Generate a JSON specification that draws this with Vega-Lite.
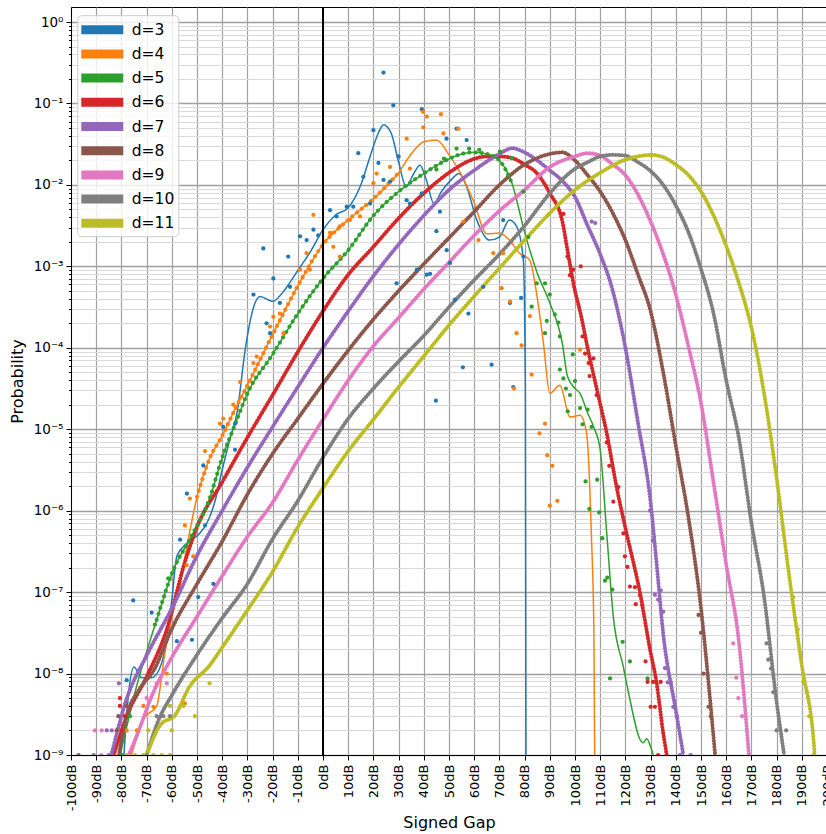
{
"$schema": "https://vega.github.io/schema/vega-lite/v6.json",
"width": 756, "height": 748,
"autosize": "none",
"padding": {"left": 71, "top": 7, "right": 0, "bottom": 79},
"background": "white",
"config": {
  "font": "DejaVu Sans",
  "view": {"stroke": "#000", "strokeWidth": 1},
  "axis": {"domainColor": "#000", "tickColor": "#000", "labelColor": "#000", "titleColor": "#000", "titleFontWeight": "normal", "labelFontSize": 13, "titleFontSize": 16, "labelOverlap": false}
},
"datasets": {
"curves": [
{"d":"d=3","gap":-79,"p":1e-9},{"d":"d=3","gap":-77,"p":6.3e-9},{"d":"d=3","gap":-75,"p":1.2e-8},{"d":"d=3","gap":-72,"p":8.9e-9},{"d":"d=3","gap":-68,"p":8.9e-9},{"d":"d=3","gap":-65,"p":1.12e-8},{"d":"d=3","gap":-62,"p":2.57e-8},{"d":"d=3","gap":-60,"p":7.9e-8},{"d":"d=3","gap":-58,"p":2.75e-7},{"d":"d=3","gap":-54,"p":3.98e-7},{"d":"d=3","gap":-49,"p":5.25e-7},{"d":"d=3","gap":-46,"p":7.1e-7},{"d":"d=3","gap":-43,"p":1.26e-6},{"d":"d=3","gap":-40,"p":3.16e-6},{"d":"d=3","gap":-37,"p":7.4e-6},{"d":"d=3","gap":-34,"p":1.66e-5},{"d":"d=3","gap":-31,"p":8.9e-5},{"d":"d=3","gap":-28,"p":2.82e-4},{"d":"d=3","gap":-25,"p":4.27e-4},{"d":"d=3","gap":-20,"p":3.72e-4},{"d":"d=3","gap":-15,"p":5.25e-4},{"d":"d=3","gap":-10,"p":8.9e-4},{"d":"d=3","gap":-5,"p":1.51e-3},{"d":"d=3","gap":0,"p":2.82e-3},{"d":"d=3","gap":5,"p":4.27e-3},{"d":"d=3","gap":10,"p":5.25e-3},{"d":"d=3","gap":15,"p":1e-2},{"d":"d=3","gap":19,"p":2.4e-2},{"d":"d=3","gap":22,"p":4.37e-2},{"d":"d=3","gap":24,"p":5.5e-2},{"d":"d=3","gap":27,"p":4.37e-2},{"d":"d=3","gap":30,"p":1.91e-2},{"d":"d=3","gap":33,"p":9.5e-3},{"d":"d=3","gap":36,"p":1.38e-2},{"d":"d=3","gap":38.5,"p":1.74e-2},{"d":"d=3","gap":41,"p":1.15e-2},{"d":"d=3","gap":44,"p":5.9e-3},{"d":"d=3","gap":47,"p":8.3e-3},{"d":"d=3","gap":51,"p":1.17e-2},{"d":"d=3","gap":54,"p":1.38e-2},{"d":"d=3","gap":57,"p":9.5e-3},{"d":"d=3","gap":61,"p":3.72e-3},{"d":"d=3","gap":66,"p":2.1e-3},{"d":"d=3","gap":70,"p":2.29e-3},{"d":"d=3","gap":74,"p":3.72e-3},{"d":"d=3","gap":77,"p":3.02e-3},{"d":"d=3","gap":79.5,"p":1.2e-3},{"d":"d=3","gap":80.3,"p":3.16e-5},{"d":"d=3","gap":80.6,"p":1e-10},
{"d":"d=4","gap":-76,"p":1e-9},{"d":"d=4","gap":-71,"p":2.82e-9},{"d":"d=4","gap":-66,"p":3.98e-9},{"d":"d=4","gap":-63,"p":1.58e-8},{"d":"d=4","gap":-60,"p":5e-8},{"d":"d=4","gap":-57,"p":1.12e-7},{"d":"d=4","gap":-54,"p":3.63e-7},{"d":"d=4","gap":-50,"p":1.48e-6},{"d":"d=4","gap":-45,"p":4.37e-6},{"d":"d=4","gap":-40,"p":8.3e-6},{"d":"d=4","gap":-35,"p":1.74e-5},{"d":"d=4","gap":-30,"p":3.47e-5},{"d":"d=4","gap":-20,"p":1.45e-4},{"d":"d=4","gap":-10,"p":5.75e-4},{"d":"d=4","gap":0,"p":1.86e-3},{"d":"d=4","gap":10,"p":3.72e-3},{"d":"d=4","gap":20,"p":6.76e-3},{"d":"d=4","gap":30,"p":1.41e-2},{"d":"d=4","gap":35,"p":2.4e-2},{"d":"d=4","gap":40,"p":3.39e-2},{"d":"d=4","gap":45,"p":3.55e-2},{"d":"d=4","gap":50,"p":2.34e-2},{"d":"d=4","gap":55,"p":1.32e-2},{"d":"d=4","gap":60,"p":6e-3},{"d":"d=4","gap":65,"p":2.51e-3},{"d":"d=4","gap":70,"p":2.57e-3},{"d":"d=4","gap":74,"p":2.1e-3},{"d":"d=4","gap":78,"p":1.45e-3},{"d":"d=4","gap":82,"p":1.2e-3},{"d":"d=4","gap":85,"p":4.17e-4},{"d":"d=4","gap":87.5,"p":1.12e-4},{"d":"d=4","gap":90,"p":2.75e-5},{"d":"d=4","gap":94,"p":3.47e-5},{"d":"d=4","gap":98,"p":1.41e-5},{"d":"d=4","gap":102,"p":1.48e-5},{"d":"d=4","gap":104.6,"p":8.9e-6},{"d":"d=4","gap":106.5,"p":5e-7},{"d":"d=4","gap":107.5,"p":3.16e-8},{"d":"d=4","gap":108,"p":1e-10},
{"d":"d=5","gap":-80.5,"p":1e-9},{"d":"d=5","gap":-74,"p":6.9e-9},{"d":"d=5","gap":-66,"p":4.57e-8},{"d":"d=5","gap":-59,"p":2e-7},{"d":"d=5","gap":-53,"p":4.37e-7},{"d":"d=5","gap":-45,"p":1.41e-6},{"d":"d=5","gap":-40,"p":4.47e-6},{"d":"d=5","gap":-35,"p":1.12e-5},{"d":"d=5","gap":-30,"p":2.75e-5},{"d":"d=5","gap":-20,"p":8.3e-5},{"d":"d=5","gap":-10,"p":2.63e-4},{"d":"d=5","gap":0,"p":7.1e-4},{"d":"d=5","gap":10,"p":1.58e-3},{"d":"d=5","gap":20,"p":4.2e-3},{"d":"d=5","gap":30,"p":8.3e-3},{"d":"d=5","gap":40,"p":1.38e-2},{"d":"d=5","gap":50,"p":2.09e-2},{"d":"d=5","gap":55,"p":2.4e-2},{"d":"d=5","gap":60,"p":2.51e-2},{"d":"d=5","gap":65,"p":2.4e-2},{"d":"d=5","gap":70,"p":2e-2},{"d":"d=5","gap":75,"p":1.05e-2},{"d":"d=5","gap":80,"p":2.63e-3},{"d":"d=5","gap":85,"p":8.3e-4},{"d":"d=5","gap":90,"p":3.55e-4},{"d":"d=5","gap":95,"p":1.12e-4},{"d":"d=5","gap":97,"p":4.47e-5},{"d":"d=5","gap":100,"p":3.16e-5},{"d":"d=5","gap":102,"p":2.75e-5},{"d":"d=5","gap":105,"p":1.58e-5},{"d":"d=5","gap":107.5,"p":1.05e-5},{"d":"d=5","gap":110,"p":5.6e-6},{"d":"d=5","gap":112.6,"p":5.25e-7},{"d":"d=5","gap":115.2,"p":5e-8},{"d":"d=5","gap":119.2,"p":1.2e-8},{"d":"d=5","gap":121.8,"p":4.8e-9},{"d":"d=5","gap":125.8,"p":1.55e-9},{"d":"d=5","gap":127,"p":1.41e-9},{"d":"d=5","gap":128.5,"p":1.58e-9},{"d":"d=5","gap":130,"p":1.26e-9},{"d":"d=5","gap":131,"p":1e-9},
{"d":"d=6","gap":-83,"p":1e-9},{"d":"d=6","gap":-78,"p":2.95e-9},{"d":"d=6","gap":-70,"p":9.1e-9},{"d":"d=6","gap":-62,"p":3.47e-8},{"d":"d=6","gap":-55,"p":2.24e-7},{"d":"d=6","gap":-50,"p":6.3e-7},{"d":"d=6","gap":-40,"p":2.24e-6},{"d":"d=6","gap":-30,"p":7.9e-6},{"d":"d=6","gap":-20,"p":2.63e-5},{"d":"d=6","gap":-10,"p":8.9e-5},{"d":"d=6","gap":0,"p":2.82e-4},{"d":"d=6","gap":10,"p":7.9e-4},{"d":"d=6","gap":20,"p":1.74e-3},{"d":"d=6","gap":30,"p":3.9e-3},{"d":"d=6","gap":40,"p":7.9e-3},{"d":"d=6","gap":50,"p":1.41e-2},{"d":"d=6","gap":60,"p":2.09e-2},{"d":"d=6","gap":65,"p":2.24e-2},{"d":"d=6","gap":70,"p":2.24e-2},{"d":"d=6","gap":75,"p":2.14e-2},{"d":"d=6","gap":80,"p":1.78e-2},{"d":"d=6","gap":85,"p":1.38e-2},{"d":"d=6","gap":90,"p":7.9e-3},{"d":"d=6","gap":95,"p":3.55e-3},{"d":"d=6","gap":97,"p":1.58e-3},{"d":"d=6","gap":100,"p":5e-4},{"d":"d=6","gap":102,"p":2.82e-4},{"d":"d=6","gap":105,"p":1e-4},{"d":"d=6","gap":108.6,"p":3.16e-5},{"d":"d=6","gap":112.6,"p":8.9e-6},{"d":"d=6","gap":116.5,"p":1.95e-6},{"d":"d=6","gap":120.5,"p":5.25e-7},{"d":"d=6","gap":125.8,"p":9.8e-8},{"d":"d=6","gap":129.8,"p":1.95e-8},{"d":"d=6","gap":132.4,"p":7.6e-9},{"d":"d=6","gap":135,"p":1.86e-9},{"d":"d=6","gap":136.4,"p":1e-9},
{"d":"d=7","gap":-84,"p":1e-9},{"d":"d=7","gap":-78,"p":4.8e-9},{"d":"d=7","gap":-70,"p":1.66e-8},{"d":"d=7","gap":-60,"p":6.3e-8},{"d":"d=7","gap":-50,"p":2.8e-7},{"d":"d=7","gap":-40,"p":1e-6},{"d":"d=7","gap":-30,"p":3.4e-6},{"d":"d=7","gap":-20,"p":1.07e-5},{"d":"d=7","gap":-10,"p":3.3e-5},{"d":"d=7","gap":0,"p":1e-4},{"d":"d=7","gap":10,"p":2.82e-4},{"d":"d=7","gap":20,"p":7.6e-4},{"d":"d=7","gap":30,"p":1.86e-3},{"d":"d=7","gap":40,"p":4.2e-3},{"d":"d=7","gap":50,"p":8.7e-3},{"d":"d=7","gap":60,"p":1.51e-2},{"d":"d=7","gap":70,"p":2.4e-2},{"d":"d=7","gap":75,"p":2.82e-2},{"d":"d=7","gap":80,"p":2.51e-2},{"d":"d=7","gap":85,"p":2e-2},{"d":"d=7","gap":90,"p":1.51e-2},{"d":"d=7","gap":95,"p":1.12e-2},{"d":"d=7","gap":100,"p":7.1e-3},{"d":"d=7","gap":105,"p":3.16e-3},{"d":"d=7","gap":110,"p":1.41e-3},{"d":"d=7","gap":115,"p":5e-4},{"d":"d=7","gap":120,"p":1e-4},{"d":"d=7","gap":125,"p":1.2e-5},{"d":"d=7","gap":130,"p":1.26e-6},{"d":"d=7","gap":132.5,"p":2.04e-7},{"d":"d=7","gap":135,"p":3.1e-8},{"d":"d=7","gap":140,"p":3.55e-9},{"d":"d=7","gap":143,"p":1e-9},
{"d":"d=8","gap":-81,"p":1e-9},{"d":"d=8","gap":-78,"p":2.95e-9},{"d":"d=8","gap":-73,"p":6.3e-9},{"d":"d=8","gap":-67,"p":1.12e-8},{"d":"d=8","gap":-60,"p":3.55e-8},{"d":"d=8","gap":-50,"p":1.26e-7},{"d":"d=8","gap":-40,"p":4.2e-7},{"d":"d=8","gap":-30,"p":1.58e-6},{"d":"d=8","gap":-20,"p":5e-6},{"d":"d=8","gap":-10,"p":1.35e-5},{"d":"d=8","gap":0,"p":3.63e-5},{"d":"d=8","gap":10,"p":9.3e-5},{"d":"d=8","gap":20,"p":2.24e-4},{"d":"d=8","gap":30,"p":5e-4},{"d":"d=8","gap":40,"p":1.07e-3},{"d":"d=8","gap":50,"p":2.24e-3},{"d":"d=8","gap":60,"p":4.7e-3},{"d":"d=8","gap":70,"p":1e-2},{"d":"d=8","gap":80,"p":1.78e-2},{"d":"d=8","gap":90,"p":2.4e-2},{"d":"d=8","gap":95,"p":2.51e-2},{"d":"d=8","gap":100,"p":2e-2},{"d":"d=8","gap":105,"p":1.32e-2},{"d":"d=8","gap":110,"p":8.3e-3},{"d":"d=8","gap":115,"p":4.5e-3},{"d":"d=8","gap":120,"p":2.1e-3},{"d":"d=8","gap":125,"p":7.9e-4},{"d":"d=8","gap":130,"p":2.82e-4},{"d":"d=8","gap":135,"p":5e-5},{"d":"d=8","gap":140,"p":6.3e-6},{"d":"d=8","gap":145,"p":8.3e-7},{"d":"d=8","gap":150,"p":6.3e-8},{"d":"d=8","gap":153.6,"p":4.8e-9},{"d":"d=8","gap":155.6,"p":1e-9},
{"d":"d=9","gap":-77,"p":1e-9},{"d":"d=9","gap":-73,"p":2.04e-9},{"d":"d=9","gap":-68,"p":5.25e-9},{"d":"d=9","gap":-60,"p":1.58e-8},{"d":"d=9","gap":-50,"p":5e-8},{"d":"d=9","gap":-40,"p":1.58e-7},{"d":"d=9","gap":-30,"p":4.8e-7},{"d":"d=9","gap":-20,"p":1.26e-6},{"d":"d=9","gap":-10,"p":4.2e-6},{"d":"d=9","gap":0,"p":1.32e-5},{"d":"d=9","gap":10,"p":3.98e-5},{"d":"d=9","gap":20,"p":1.05e-4},{"d":"d=9","gap":30,"p":2.34e-4},{"d":"d=9","gap":40,"p":5.25e-4},{"d":"d=9","gap":50,"p":1.12e-3},{"d":"d=9","gap":60,"p":2.4e-3},{"d":"d=9","gap":70,"p":4.8e-3},{"d":"d=9","gap":80,"p":8.7e-3},{"d":"d=9","gap":90,"p":1.66e-2},{"d":"d=9","gap":100,"p":2.24e-2},{"d":"d=9","gap":105,"p":2.45e-2},{"d":"d=9","gap":110,"p":2.29e-2},{"d":"d=9","gap":115,"p":1.78e-2},{"d":"d=9","gap":120,"p":1.32e-2},{"d":"d=9","gap":125,"p":7.6e-3},{"d":"d=9","gap":130,"p":3.55e-3},{"d":"d=9","gap":135,"p":1.41e-3},{"d":"d=9","gap":140,"p":4.5e-4},{"d":"d=9","gap":145,"p":1.05e-4},{"d":"d=9","gap":150,"p":2.1e-5},{"d":"d=9","gap":155,"p":2.19e-6},{"d":"d=9","gap":160,"p":2.19e-7},{"d":"d=9","gap":165,"p":2.5e-8},{"d":"d=9","gap":169,"p":1e-9},
{"d":"d=10","gap":-70,"p":1e-9},{"d":"d=10","gap":-65,"p":2.8e-9},{"d":"d=10","gap":-60,"p":5.4e-9},{"d":"d=10","gap":-50,"p":1.7e-8},{"d":"d=10","gap":-40,"p":4.8e-8},{"d":"d=10","gap":-30,"p":1.26e-7},{"d":"d=10","gap":-20,"p":4.5e-7},{"d":"d=10","gap":-10,"p":1.32e-6},{"d":"d=10","gap":0,"p":4.5e-6},{"d":"d=10","gap":10,"p":1.35e-5},{"d":"d=10","gap":20,"p":3.16e-5},{"d":"d=10","gap":30,"p":6.8e-5},{"d":"d=10","gap":40,"p":1.41e-4},{"d":"d=10","gap":50,"p":3.16e-4},{"d":"d=10","gap":60,"p":6.8e-4},{"d":"d=10","gap":70,"p":1.41e-3},{"d":"d=10","gap":80,"p":3.16e-3},{"d":"d=10","gap":90,"p":7.9e-3},{"d":"d=10","gap":100,"p":1.58e-2},{"d":"d=10","gap":105,"p":1.9e-2},{"d":"d=10","gap":110,"p":2.24e-2},{"d":"d=10","gap":115,"p":2.34e-2},{"d":"d=10","gap":120,"p":2.29e-2},{"d":"d=10","gap":125,"p":1.9e-2},{"d":"d=10","gap":130,"p":1.48e-2},{"d":"d=10","gap":135,"p":1e-2},{"d":"d=10","gap":140,"p":5.6e-3},{"d":"d=10","gap":145,"p":2.63e-3},{"d":"d=10","gap":150,"p":9.3e-4},{"d":"d=10","gap":155,"p":2.63e-4},{"d":"d=10","gap":160,"p":3.98e-5},{"d":"d=10","gap":165,"p":7.9e-6},{"d":"d=10","gap":170,"p":7.1e-7},{"d":"d=10","gap":175,"p":8.9e-8},{"d":"d=10","gap":180,"p":4.5e-9},{"d":"d=10","gap":183,"p":1e-9},
{"d":"d=11","gap":-70,"p":1e-9},{"d":"d=11","gap":-64,"p":2.45e-9},{"d":"d=11","gap":-59,"p":3e-9},{"d":"d=11","gap":-53,"p":6.9e-9},{"d":"d=11","gap":-45,"p":1.26e-8},{"d":"d=11","gap":-40,"p":2.1e-8},{"d":"d=11","gap":-30,"p":6e-8},{"d":"d=11","gap":-20,"p":1.78e-7},{"d":"d=11","gap":-10,"p":6.3e-7},{"d":"d=11","gap":0,"p":1.9e-6},{"d":"d=11","gap":10,"p":5.4e-6},{"d":"d=11","gap":20,"p":1.32e-5},{"d":"d=11","gap":30,"p":3.3e-5},{"d":"d=11","gap":40,"p":7.9e-5},{"d":"d=11","gap":50,"p":1.9e-4},{"d":"d=11","gap":60,"p":4.3e-4},{"d":"d=11","gap":70,"p":9.5e-4},{"d":"d=11","gap":80,"p":2.1e-3},{"d":"d=11","gap":90,"p":4.5e-3},{"d":"d=11","gap":100,"p":8.7e-3},{"d":"d=11","gap":110,"p":1.41e-2},{"d":"d=11","gap":120,"p":2.04e-2},{"d":"d=11","gap":125,"p":2.24e-2},{"d":"d=11","gap":130,"p":2.34e-2},{"d":"d=11","gap":135,"p":2.19e-2},{"d":"d=11","gap":140,"p":1.78e-2},{"d":"d=11","gap":145,"p":1.32e-2},{"d":"d=11","gap":150,"p":8.3e-3},{"d":"d=11","gap":155,"p":4.2e-3},{"d":"d=11","gap":160,"p":1.78e-3},{"d":"d=11","gap":165,"p":6.3e-4},{"d":"d=11","gap":170,"p":1.78e-4},{"d":"d=11","gap":175,"p":2.8e-5},{"d":"d=11","gap":180,"p":2.5e-6},{"d":"d=11","gap":185,"p":1.58e-7},{"d":"d=11","gap":190,"p":1.26e-8},{"d":"d=11","gap":195,"p":1.12e-9},{"d":"d=11","gap":196,"p":1e-10}
],
"dots": [
{"d":"d=3","gap":-80,"p":1e-9},{"d":"d=3","gap":-77.9,"p":8.3e-9},{"d":"d=3","gap":-75.3,"p":7.9e-8},{"d":"d=3","gap":-68,"p":5.6e-8},{"d":"d=3","gap":-58,"p":2.5e-8},{"d":"d=3","gap":-52,"p":2.6e-8},{"d":"d=3","gap":-49.5,"p":8.7e-8},{"d":"d=3","gap":-43.5,"p":1.26e-7},{"d":"d=3","gap":-56.7,"p":4.4e-7},{"d":"d=3","gap":-54,"p":1.62e-6},{"d":"d=3","gap":-47.5,"p":3.6e-6},{"d":"d=3","gap":-46.8,"p":6.6e-7},{"d":"d=3","gap":-39.6,"p":1.07e-5},{"d":"d=3","gap":-34.9,"p":1.17e-5},{"d":"d=3","gap":-34.9,"p":5.6e-6},{"d":"d=3","gap":-27.6,"p":4.5e-4},{"d":"d=3","gap":-23.7,"p":1.66e-3},{"d":"d=3","gap":-22.4,"p":2e-4},{"d":"d=3","gap":-21,"p":1.51e-4},{"d":"d=3","gap":-19.7,"p":7.1e-4},{"d":"d=3","gap":-17.1,"p":3.55e-4},{"d":"d=3","gap":-13.8,"p":1.32e-3},{"d":"d=3","gap":-13.1,"p":5.6e-4},{"d":"d=3","gap":-9.1,"p":2.34e-3},{"d":"d=3","gap":-6.5,"p":2.1e-3},{"d":"d=3","gap":-3.8,"p":2.82e-3},{"d":"d=3","gap":-1.9,"p":2.4e-3},{"d":"d=3","gap":2.8,"p":4.9e-3},{"d":"d=3","gap":5.4,"p":4.1e-3},{"d":"d=3","gap":9.4,"p":5.4e-3},{"d":"d=3","gap":12,"p":5.4e-3},{"d":"d=3","gap":14,"p":2.45e-2},{"d":"d=3","gap":16,"p":1.26e-2},{"d":"d=3","gap":18.7,"p":5.9e-3},{"d":"d=3","gap":20,"p":4.7e-2},{"d":"d=3","gap":22,"p":1.86e-2},{"d":"d=3","gap":24,"p":0.24},{"d":"d=3","gap":24,"p":1.15e-2},{"d":"d=3","gap":26.6,"p":1.1e-2},{"d":"d=3","gap":27.9,"p":9.5e-2},{"d":"d=3","gap":29.2,"p":6.2e-4},{"d":"d=3","gap":30,"p":2.24e-2},{"d":"d=3","gap":33.2,"p":6.5e-3},{"d":"d=3","gap":34.5,"p":5.9e-3},{"d":"d=3","gap":37.2,"p":9.1e-4},{"d":"d=3","gap":39.2,"p":8.5e-2},{"d":"d=3","gap":39.2,"p":7.9e-3},{"d":"d=3","gap":41.2,"p":7.9e-4},{"d":"d=3","gap":42.5,"p":8.1e-4},{"d":"d=3","gap":44.8,"p":2.24e-5},{"d":"d=3","gap":45,"p":2.7e-3},{"d":"d=3","gap":46.4,"p":4.7e-3},{"d":"d=3","gap":49,"p":3.7e-2},{"d":"d=3","gap":49.1,"p":1.58e-3},{"d":"d=3","gap":50.4,"p":1.1e-3},{"d":"d=3","gap":52.4,"p":3.9e-4},{"d":"d=3","gap":53,"p":4.9e-2},{"d":"d=3","gap":55.5,"p":5.75e-5},{"d":"d=3","gap":57,"p":3.55e-2},{"d":"d=3","gap":57.7,"p":2.63e-4},{"d":"d=3","gap":63.6,"p":5.6e-4},{"d":"d=3","gap":66.9,"p":6.2e-5},{"d":"d=3","gap":71.5,"p":3.7e-3},{"d":"d=3","gap":74.2,"p":3.55e-4},{"d":"d=3","gap":75.5,"p":3.3e-5},{"d":"d=3","gap":78.6,"p":4.1e-4},{"d":"d=3","gap":79.5,"p":1.32e-3},
{"d":"d=4","gap":-73.9,"p":2e-9},{"d":"d=4","gap":-67.3,"p":3.9e-9},{"d":"d=4","gap":-62,"p":1e-8},{"d":"d=4","gap":-54.8,"p":4.3e-9},{"d":"d=4","gap":-54.1,"p":2.14e-7},{"d":"d=4","gap":-51.5,"p":2.75e-7},{"d":"d=4","gap":-54.8,"p":6.6e-7},{"d":"d=4","gap":-52.8,"p":1.41e-6},{"d":"d=4","gap":-46.8,"p":5.4e-6},{"d":"d=4","gap":-40.9,"p":1.17e-5},{"d":"d=4","gap":-39.6,"p":1.35e-5},{"d":"d=4","gap":-35.6,"p":2e-5},{"d":"d=4","gap":-32.9,"p":3.8e-5},{"d":"d=4","gap":-27.6,"p":6.5e-5},{"d":"d=4","gap":-26.3,"p":7.8e-5},{"d":"d=4","gap":-21,"p":1.82e-4},{"d":"d=4","gap":-19.7,"p":2.4e-4},{"d":"d=4","gap":-17.1,"p":2.63e-4},{"d":"d=4","gap":-15.7,"p":1.51e-4},{"d":"d=4","gap":-9.1,"p":9.1e-4},{"d":"d=4","gap":-6.5,"p":1.45e-3},{"d":"d=4","gap":-5.2,"p":9.1e-4},{"d":"d=4","gap":-3.8,"p":4.3e-3},{"d":"d=4","gap":2.8,"p":2.57e-3},{"d":"d=4","gap":4.1,"p":1.74e-3},{"d":"d=4","gap":6.7,"p":3.1e-3},{"d":"d=4","gap":6.7,"p":1.32e-3},{"d":"d=4","gap":10.7,"p":3.7e-3},{"d":"d=4","gap":14.7,"p":4.1e-3},{"d":"d=4","gap":20,"p":1.05e-2},{"d":"d=4","gap":21.3,"p":1.38e-2},{"d":"d=4","gap":26.6,"p":1.66e-2},{"d":"d=4","gap":33.2,"p":3.7e-2},{"d":"d=4","gap":34.5,"p":1.58e-2},{"d":"d=4","gap":39.7,"p":7.9e-2},{"d":"d=4","gap":39.8,"p":5.1e-2},{"d":"d=4","gap":41.2,"p":6.9e-2},{"d":"d=4","gap":46.8,"p":7.4e-2},{"d":"d=4","gap":47.8,"p":4.3e-2},{"d":"d=4","gap":53.7,"p":4.9e-2},{"d":"d=4","gap":55.7,"p":3.55e-3},{"d":"d=4","gap":61.7,"p":2.1e-3},{"d":"d=4","gap":67.6,"p":1.45e-3},{"d":"d=4","gap":70.9,"p":5.4e-4},{"d":"d=4","gap":71.5,"p":1.45e-3},{"d":"d=4","gap":74.2,"p":3.7e-4},{"d":"d=4","gap":75.8,"p":3.16e-5},{"d":"d=4","gap":76.8,"p":1.51e-4},{"d":"d=4","gap":78.8,"p":1.07e-4},{"d":"d=4","gap":82.1,"p":2.45e-4},{"d":"d=4","gap":82.8,"p":4.7e-5},{"d":"d=4","gap":85.9,"p":8.9e-6},{"d":"d=4","gap":88.1,"p":1.17e-5},{"d":"d=4","gap":89,"p":4.8e-6},{"d":"d=4","gap":90,"p":1.15e-6},{"d":"d=4","gap":91,"p":3.55e-6},{"d":"d=4","gap":93,"p":1.32e-6},{"d":"d=4","gap":102,"p":9.5e-5},{"d":"d=4","gap":-77.9,"p":2e-9},{"d":"d=4","gap":-71.3,"p":4e-9},
{"d":"d=5","gap":45,"p":1.55e-2},{"d":"d=5","gap":48,"p":2.1e-2},{"d":"d=5","gap":53,"p":2.8e-2},{"d":"d=5","gap":58,"p":2.8e-2},{"d":"d=5","gap":62,"p":2.7e-2},{"d":"d=5","gap":70.2,"p":2.57e-2},{"d":"d=5","gap":74.9,"p":2.14e-2},{"d":"d=5","gap":79.5,"p":8.3e-3},{"d":"d=5","gap":81.5,"p":2.29e-3},{"d":"d=5","gap":84.8,"p":6.2e-4},{"d":"d=5","gap":88.1,"p":6.2e-4},{"d":"d=5","gap":82.8,"p":3.2e-4},{"d":"d=5","gap":88.8,"p":2.14e-4},{"d":"d=5","gap":92,"p":2.57e-4},{"d":"d=5","gap":93.4,"p":2.04e-4},{"d":"d=5","gap":88.1,"p":1.51e-4},{"d":"d=5","gap":90,"p":4.5e-4},{"d":"d=5","gap":94,"p":1.38e-4},{"d":"d=5","gap":99.1,"p":8.3e-5},{"d":"d=5","gap":94,"p":5.4e-5},{"d":"d=5","gap":95.4,"p":4.2e-5},{"d":"d=5","gap":96.4,"p":3.16e-5},{"d":"d=5","gap":98,"p":2.63e-5},{"d":"d=5","gap":100,"p":3.9e-5},{"d":"d=5","gap":97.1,"p":1.66e-5},{"d":"d=5","gap":102,"p":1.82e-5},{"d":"d=5","gap":105,"p":1.74e-5},{"d":"d=5","gap":103,"p":1.15e-5},{"d":"d=5","gap":106.6,"p":1.07e-5},{"d":"d=5","gap":104.2,"p":2.29e-6},{"d":"d=5","gap":108.8,"p":2.4e-6},{"d":"d=5","gap":105.7,"p":1.05e-6},{"d":"d=5","gap":109.6,"p":9.5e-7},{"d":"d=5","gap":110.8,"p":4.6e-7},{"d":"d=5","gap":111.9,"p":1.38e-7},{"d":"d=5","gap":112.8,"p":1.51e-7},{"d":"d=5","gap":114.8,"p":1.07e-7},{"d":"d=5","gap":118.9,"p":2.45e-8},{"d":"d=5","gap":121.8,"p":1.41e-8},{"d":"d=5","gap":113.9,"p":8.7e-9},{"d":"d=5","gap":128.8,"p":8.7e-9},{"d":"d=5","gap":-61.4,"p":1.48e-7},{"d":"d=5","gap":-66.7,"p":4e-8},{"d":"d=5","gap":-76.6,"p":3e-9},{"d":"d=5","gap":-80,"p":1e-9},
{"d":"d=6","gap":95.4,"p":4.4e-3},{"d":"d=6","gap":97,"p":1.32e-3},{"d":"d=6","gap":98,"p":7.8e-4},{"d":"d=6","gap":99.3,"p":9.1e-4},{"d":"d=6","gap":102.3,"p":1e-3},{"d":"d=6","gap":103,"p":1.38e-4},{"d":"d=6","gap":104,"p":8.5e-5},{"d":"d=6","gap":105.4,"p":6.5e-5},{"d":"d=6","gap":105.8,"p":4.5e-5},{"d":"d=6","gap":107.3,"p":7.4e-5},{"d":"d=6","gap":108.6,"p":2.63e-5},{"d":"d=6","gap":112.6,"p":6.9e-6},{"d":"d=6","gap":113.6,"p":3.55e-6},{"d":"d=6","gap":115.2,"p":1.29e-6},{"d":"d=6","gap":117.2,"p":1.95e-6},{"d":"d=6","gap":119.2,"p":5.25e-7},{"d":"d=6","gap":119.8,"p":2.75e-7},{"d":"d=6","gap":120.8,"p":2.04e-7},{"d":"d=6","gap":121.8,"p":1.17e-7},{"d":"d=6","gap":123.8,"p":1.15e-7},{"d":"d=6","gap":124.1,"p":7.1e-8},{"d":"d=6","gap":125.8,"p":9.1e-8},{"d":"d=6","gap":126.7,"p":6.9e-8},{"d":"d=6","gap":128,"p":1.41e-8},{"d":"d=6","gap":128.8,"p":7.9e-9},{"d":"d=6","gap":131,"p":7.9e-9},{"d":"d=6","gap":134,"p":7.9e-9},{"d":"d=6","gap":130,"p":3.9e-9},{"d":"d=6","gap":131.7,"p":3.9e-9},{"d":"d=6","gap":133,"p":1e-9},{"d":"d=6","gap":-79.9,"p":2e-9},{"d":"d=6","gap":-78.6,"p":3e-9},{"d":"d=6","gap":-80.6,"p":4e-9},{"d":"d=6","gap":-80.6,"p":5e-9},
{"d":"d=7","gap":106.6,"p":3.55e-3},{"d":"d=7","gap":108,"p":3.4e-3},{"d":"d=7","gap":129.8,"p":1e-6},{"d":"d=7","gap":130.9,"p":4.3e-7},{"d":"d=7","gap":131.7,"p":9.3e-8},{"d":"d=7","gap":133,"p":8.1e-8},{"d":"d=7","gap":134,"p":1.05e-7},{"d":"d=7","gap":135,"p":5.75e-8},{"d":"d=7","gap":135.7,"p":1.17e-8},{"d":"d=7","gap":136.8,"p":7.8e-9},{"d":"d=7","gap":138,"p":7.8e-9},{"d":"d=7","gap":139,"p":3.9e-9},{"d":"d=7","gap":140.4,"p":3e-9},{"d":"d=7","gap":141.7,"p":1e-9},{"d":"d=7","gap":145.9,"p":1e-9},{"d":"d=7","gap":-85,"p":1e-9},{"d":"d=7","gap":-85.8,"p":2e-9},{"d":"d=7","gap":-83.8,"p":2e-9},{"d":"d=7","gap":-81,"p":7.6e-9},
{"d":"d=8","gap":149,"p":5.25e-8},{"d":"d=8","gap":150,"p":3.16e-8},{"d":"d=8","gap":151,"p":1e-8},{"d":"d=8","gap":153,"p":3.9e-9},{"d":"d=8","gap":153.9,"p":3e-9},{"d":"d=8","gap":-97,"p":1e-9},{"d":"d=8","gap":-81.9,"p":2e-9},{"d":"d=8","gap":-81.2,"p":3e-9},{"d":"d=8","gap":-77.9,"p":4e-9},
{"d":"d=9","gap":162.8,"p":2.34e-8},{"d":"d=9","gap":164,"p":8.9e-9},{"d":"d=9","gap":164.8,"p":5e-9},{"d":"d=9","gap":166.3,"p":3e-9},{"d":"d=9","gap":-88,"p":1e-9},{"d":"d=9","gap":-90.5,"p":2e-9},{"d":"d=9","gap":-87.8,"p":2e-9},{"d":"d=9","gap":-70,"p":5e-9},{"d":"d=9","gap":-66,"p":7.6e-9},{"d":"d=9","gap":-62,"p":7.6e-9},
{"d":"d=10","gap":176,"p":2.34e-8},{"d":"d=10","gap":176.7,"p":1.48e-8},{"d":"d=10","gap":177.8,"p":1.15e-8},{"d":"d=10","gap":178.7,"p":5.9e-9},{"d":"d=10","gap":180,"p":2e-9},{"d":"d=10","gap":183.8,"p":2e-9},{"d":"d=10","gap":-91,"p":1e-9},{"d":"d=10","gap":-70,"p":1e-9},{"d":"d=10","gap":-66,"p":3e-9},{"d":"d=10","gap":-63.4,"p":3e-9},{"d":"d=10","gap":-60.7,"p":3e-9},
{"d":"d=11","gap":186.6,"p":8.7e-8},{"d":"d=11","gap":188.4,"p":3.5e-8},{"d":"d=11","gap":190.6,"p":7.9e-9},{"d":"d=11","gap":192,"p":5.9e-9},{"d":"d=11","gap":193,"p":3e-9},{"d":"d=11","gap":194.6,"p":1e-9},{"d":"d=11","gap":-77.9,"p":1e-9},{"d":"d=11","gap":-74.6,"p":1e-9},{"d":"d=11","gap":-71.3,"p":1e-9},{"d":"d=11","gap":-67.3,"p":1e-9},{"d":"d=11","gap":-64,"p":1e-9},{"d":"d=11","gap":-60.7,"p":1e-9},{"d":"d=11","gap":-69.3,"p":2e-9},{"d":"d=11","gap":-60,"p":2e-9},{"d":"d=11","gap":-50.8,"p":3e-9},{"d":"d=11","gap":-60.7,"p":4e-9},{"d":"d=11","gap":-55.4,"p":4e-9},{"d":"d=11","gap":-45,"p":7.6e-9}
]
},
"layer": [
{
  "data": {"name": "curves"},
  "mark": {"type": "line", "strokeWidth": 1.5, "clip": true, "interpolate": "monotone"},
  "encoding": {
    "x": {"field": "gap", "type": "quantitative", "title": "Signed Gap",
      "scale": {"domain": [-100, 200], "nice": false, "zero": false},
      "axis": {"values": [-100,-90,-80,-70,-60,-50,-40,-30,-20,-10,0,10,20,30,40,50,60,70,80,90,100,110,120,130,140,150,160,170,180,190,200],
        "tickCount": 60,
        "labelExpr": "datum.value + 'dB'", "labelAngle": -90, "labelPadding": 4, "tickSize": 5, "labelOverlap": false, "labelBound": false, "labelFlush": false,
        "grid": true, "gridColor": "#a0a0a0", "gridWidth": 1.2, "titlePadding": 4}},
    "y": {"field": "p", "type": "quantitative", "title": "Probability",
      "scale": {"type": "log", "domain": [1e-9, 1.53], "nice": false},
      "axis": {"values": [1e-9,2e-9,3e-9,4e-9,5e-9,6e-9,7e-9,8e-9,9e-9,1e-8,2e-8,3e-8,4e-8,5e-8,6e-8,7e-8,8e-8,9e-8,1e-7,2e-7,3e-7,4e-7,5e-7,6e-7,7e-7,8e-7,9e-7,1e-6,2e-6,3e-6,4e-6,5e-6,6e-6,7e-6,8e-6,9e-6,1e-5,2e-5,3e-5,4e-5,5e-5,6e-5,7e-5,8e-5,9e-5,1e-4,2e-4,3e-4,4e-4,5e-4,6e-4,7e-4,8e-4,9e-4,1e-3,2e-3,3e-3,4e-3,5e-3,6e-3,7e-3,8e-3,9e-3,1e-2,2e-2,3e-2,4e-2,5e-2,6e-2,7e-2,8e-2,9e-2,0.1,0.2,0.3,0.4,0.5,0.6,0.7,0.8,0.9,1],
        "labelExpr": "abs(log(datum.value)/LN10 - round(log(datum.value)/LN10)) < 0.001 ? '10' + (round(log(datum.value)/LN10) < 0 ? '\u207b' : '') + substring('\u2070\u00b9\u00b2\u00b3\u2074\u2075\u2076\u2077\u2078\u2079', abs(round(log(datum.value)/LN10)), abs(round(log(datum.value)/LN10)) + 1) : ''",
        "labelFontSize": 13.5,
        "grid": true,
        "gridColor": {"condition": {"test": "abs(log(datum.value)/LN10 - round(log(datum.value)/LN10)) < 0.001", "value": "#a0a0a0"}, "value": "#dadada"},
        "gridWidth": {"condition": {"test": "abs(log(datum.value)/LN10 - round(log(datum.value)/LN10)) < 0.001", "value": 1.5}, "value": 1},
        "tickSize": {"condition": {"test": "abs(log(datum.value)/LN10 - round(log(datum.value)/LN10)) < 0.001", "value": 5}, "value": 2.5},
        "labelPadding": 3, "titlePadding": 8}},
    "color": {"field": "d", "type": "nominal",
      "scale": {"domain": ["d=3","d=4","d=5","d=6","d=7","d=8","d=9","d=10","d=11"], "range": ["#1f77b4","#ff7f0e","#2ca02c","#d62728","#9467bd","#8c564b","#e377c2","#7f7f7f","#bcbd22"]},
      "legend": {"orient": "none", "legendX": 6.3, "legendY": 8.2, "title": null,
        "symbolType": "M-1,-0.43H3V0.43H-1Z", "symbolSize": 441, "symbolStrokeWidth": 0,
        "labelFontSize": 15.5, "labelColor": "#000", "labelOffset": 29.4,
        "fillColor": "rgba(255,255,255,0.8)", "strokeColor": "#cccccc", "cornerRadius": 4,
        "padding": 4, "rowPadding": 5.2,
        "encode": {"symbols": {"update": {"fill": {"scale": "color", "field": "value"}, "stroke": {"value": "transparent"}, "opacity": {"value": 1}}}}}}
  }
},
{
  "data": {"name": "curves"},
  "transform": [{"filter": "datum.d == 'd=6' || datum.d == 'd=7' || datum.d == 'd=8' || datum.d == 'd=9' || datum.d == 'd=10' || datum.d == 'd=11'"}],
  "mark": {"type": "line", "strokeWidth": 4, "strokeDash": [0.1, 3], "strokeCap": "round", "clip": true, "interpolate": "monotone"},
  "encoding": {
    "x": {"field": "gap", "type": "quantitative"},
    "y": {"field": "p", "type": "quantitative"},
    "color": {"field": "d", "type": "nominal"}
  }
},
{
  "data": {"name": "curves"},
  "transform": [{"filter": "(datum.d == 'd=4' && datum.gap >= -50 && datum.gap <= 30) || (datum.d == 'd=5' && datum.gap >= -66 && datum.gap <= 75)"}],
  "mark": {"type": "line", "strokeWidth": 4, "strokeDash": [0.1, 6], "strokeCap": "round", "clip": true, "interpolate": "monotone"},
  "encoding": {
    "x": {"field": "gap", "type": "quantitative"},
    "y": {"field": "p", "type": "quantitative"},
    "color": {"field": "d", "type": "nominal"}
  }
},
{
  "data": {"name": "dots"},
  "mark": {"type": "circle", "size": 18, "opacity": 1, "clip": true},
  "encoding": {
    "x": {"field": "gap", "type": "quantitative"},
    "y": {"field": "p", "type": "quantitative"},
    "color": {"field": "d", "type": "nominal"}
  }
},
{
  "data": {"values": [{"gap": 0}]},
  "mark": {"type": "rule", "color": "#000", "strokeWidth": 2},
  "encoding": {"x": {"field": "gap", "type": "quantitative"}}
}
]
}
